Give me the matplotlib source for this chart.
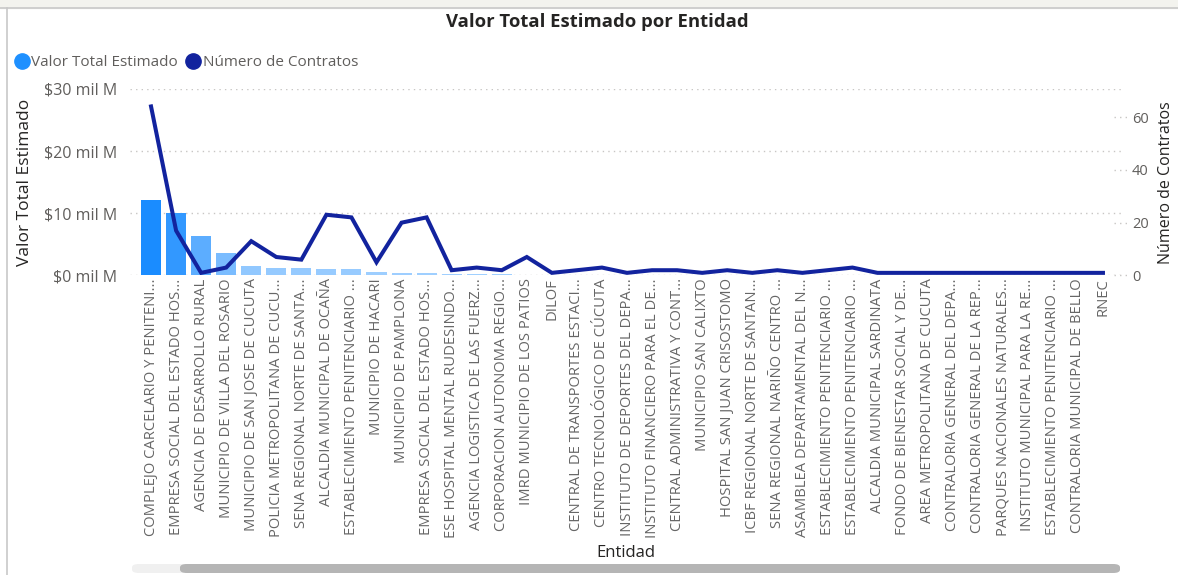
import matplotlib
matplotlib.use("Agg")
import matplotlib.pyplot as plt
import numpy as np
from matplotlib.patches import FancyBboxPatch
from matplotlib.lines import Line2D
import matplotlib.colors as mcolors

entidades = [
    "COMPLEJO CARCELARIO Y PENITENI...",
    "EMPRESA SOCIAL DEL ESTADO HOS...",
    "AGENCIA DE DESARROLLO RURAL",
    "MUNICIPIO DE VILLA DEL ROSARIO",
    "MUNICIPIO DE SAN JOSE DE CUCUTA",
    "POLICIA METROPOLITANA DE CUCU...",
    "SENA REGIONAL NORTE DE SANTA...",
    "ALCALDIA MUNICIPAL DE OCAÑA",
    "ESTABLECIMIENTO PENITENCIARIO ...",
    "MUNICIPIO DE HACARI",
    "MUNICIPIO DE PAMPLONA",
    "EMPRESA SOCIAL DEL ESTADO HOS...",
    "ESE HOSPITAL MENTAL RUDESINDO...",
    "AGENCIA LOGISTICA DE LAS FUERZ...",
    "CORPORACION AUTONOMA REGIO...",
    "IMRD MUNICIPIO DE LOS PATIOS",
    "DILOF",
    "CENTRAL DE TRANSPORTES ESTACI...",
    "CENTRO TECNOLÓGICO DE CÚCUTA",
    "INSTITUTO DE DEPORTES DEL DEPA...",
    "INSTITUTO FINANCIERO PARA EL DE...",
    "CENTRAL ADMINISTRATIVA Y CONT...",
    "MUNICIPIO SAN CALIXTO",
    "HOSPITAL SAN JUAN CRISOSTOMO",
    "ICBF REGIONAL NORTE DE SANTAN...",
    "SENA REGIONAL NARIÑO CENTRO ...",
    "ASAMBLEA DEPARTAMENTAL DEL N...",
    "ESTABLECIMIENTO PENITENCIARIO ...",
    "ESTABLECIMIENTO PENITENCIARIO ...",
    "ALCALDIA MUNICIPAL SARDINATA",
    "FONDO DE BIENESTAR SOCIAL Y DE...",
    "AREA METROPOLITANA DE CUCUTA",
    "CONTRALORIA GENERAL DEL DEPA...",
    "CONTRALORIA GENERAL DE LA REP...",
    "PARQUES NACIONALES NATURALES...",
    "INSTITUTO MUNICIPAL PARA LA RE...",
    "ESTABLECIMIENTO PENITENCIARIO ...",
    "CONTRALORIA MUNICIPAL DE BELLO",
    "RNEC",
]

# Valor total estimado (mil millones)
valor_total = [12.1, 10.0, 6.3, 3.6, 1.6, 1.25, 1.2, 1.1, 1.05, 0.55,
               0.45, 0.35, 0.3, 0.25, 0.22, 0.15, 0.12, 0.1, 0.09, 0.08,
               0.07, 0.06, 0.055, 0.05, 0.045, 0.04, 0.035, 0.03, 0.025, 0.02,
               0.018, 0.015, 0.012, 0.01, 0.008, 0.006, 0.005, 0.004, 0.003]

num_contratos = [64, 17, 1, 3, 13, 7, 6, 23, 22, 5,
                 20, 22, 2, 3, 2, 7, 1, 2, 3, 1,
                 2, 2, 1, 2, 1, 2, 1, 2, 3, 1,
                 1, 1, 1, 1, 1, 1, 1, 1, 1]

left_ticks = [0, 10, 20, 30]
left_tick_labels = ["$0 mil M", "$10 mil M", "$20 mil M", "$30 mil M"]
right_ticks = [0, 20, 40, 60]

W, H = 1178, 575
fig = plt.figure(figsize=(W / 100, H / 100), dpi=100)
plt.rcParams['font.family'] = ['Open Sans', 'DejaVu Sans']

TXT = "#605E5C"
TICK = "#666666"
DARK = "#252423"
LINE_C = "#12239E"

ax = fig.add_axes([130 / W, 1 - 275.5 / H, (1121 - 130) / W, (275.5 - 89) / H])
x = np.arange(len(entidades))

light = np.array(mcolors.to_rgb("#A3D1FF"))
dark = np.array(mcolors.to_rgb("#1A8CFF"))
vmax = max(valor_total)
colors = [tuple(light + (dark - light) * (v / vmax)) for v in valor_total]

ax.bar(x, valor_total, width=0.8, color=colors, zorder=2)
ax.set_xlim(-0.84, len(entidades) - 1 + 0.72)
ax.set_ylim(0, 30)
ax.set_yticks(left_ticks)
ax.set_yticklabels(left_tick_labels)
ax.set_xticks(x)
ax.set_xticklabels(entidades, rotation=90, ha="center", va="top")
ax.tick_params(axis="x", length=0, pad=2, labelsize=10.6, labelcolor=TICK)
ax.tick_params(axis="y", length=0, pad=9, labelsize=11.5, labelcolor=TXT)
for s in ax.spines.values():
    s.set_visible(False)
ax.grid(axis="y", linestyle=(0, (1, 3)), color="#C8C6C4", linewidth=1.0, zorder=0)
ax.set_axisbelow(True)
ax.set_ylabel("Valor Total Estimado", fontsize=12.5, color=DARK)
ax.yaxis.set_label_coords(-97 / 991, 0.5)
ax.set_xlabel("Entidad", fontsize=12, color=DARK)
ax.xaxis.set_label_coords((626 - 130) / 991, -(545 - 275.5) / 186.5)

ax2 = ax.twinx()
ax2.plot(x, num_contratos, color=LINE_C, linewidth=2.9, solid_joinstyle="miter", zorder=3)
ax2.set_ylim(0, 70.6)
ax2.set_yticks(right_ticks)
ax2.tick_params(axis="y", length=0, pad=8, labelsize=10.5, labelcolor=TXT)
for s in ax2.spines.values():
    s.set_visible(False)
ax2.set_ylabel("Número de Contratos", fontsize=11.5, color=DARK)
ax2.yaxis.set_label_coords(1 + (1158 - 1121) / 991, 0.5)
for t in right_ticks:
    ax2.plot([0.993, 1.006], [t, t], transform=ax2.get_yaxis_transform(),
             linestyle=(0, (1, 3)), color="#C8C6C4", linewidth=1.0, clip_on=False)

# Title
fig.text(597 / W, 1 - 22 / H, "Valor Total Estimado por Entidad", ha="center", va="center",
         fontsize=13.3, fontweight="bold", color=DARK)

# Legend
handles = [
    Line2D([], [], marker="o", linestyle="none", markersize=11, color="#1E90FF"),
    Line2D([], [], marker="o", linestyle="none", markersize=11, color=LINE_C),
]
fig.legend(handles, ["Valor Total Estimado", "Número de Contratos"],
           loc="center left", bbox_to_anchor=(13 / W, 1 - 63 / H), ncol=2, frameon=False,
           fontsize=11, labelcolor=TXT, handletextpad=0.0, columnspacing=0.4,
           handlelength=1.2, borderaxespad=0, borderpad=0)

# Border lines of the visual
fig.add_artist(Line2D([0, 1], [1 - 8 / H, 1 - 8 / H], transform=fig.transFigure,
                      color="#C8C8C8", linewidth=1.2))
fig.add_artist(Line2D([6.5 / W, 6.5 / W], [0, 1 - 8 / H], transform=fig.transFigure,
                      color="#C8C8C8", linewidth=1.2))
fig.add_artist(plt.Rectangle((0, 1 - 7.5 / H), 1, 7.5 / H, transform=fig.transFigure,
                             color="#F3F3EE", zorder=-1))

# Scrollbar
fig.add_artist(FancyBboxPatch((132 / W, 2 / H), (1120 - 132) / W, 9 / H,
                              boxstyle="round,pad=0,rounding_size=0.006",
                              transform=fig.transFigure, facecolor="#F0F0F0", edgecolor="none"))
fig.add_artist(FancyBboxPatch((180 / W, 2 / H), (1120 - 180) / W, 9 / H,
                              boxstyle="round,pad=0,rounding_size=0.006",
                              transform=fig.transFigure, facecolor="#B5B5B5", edgecolor="none"))

fig.savefig("out.png", dpi=100)
